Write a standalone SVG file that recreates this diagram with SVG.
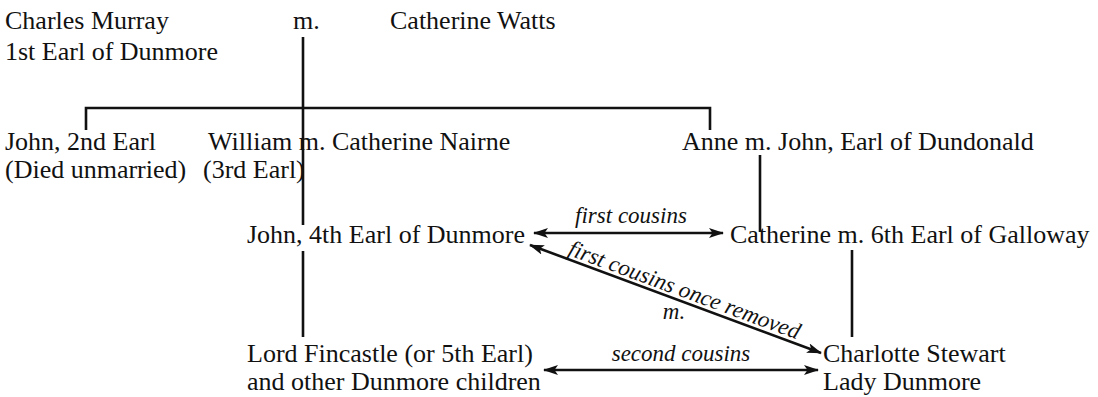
<svg xmlns="http://www.w3.org/2000/svg" width="1098" height="397" viewBox="0 0 1098 397">
  <style>
    text { font-family: "Liberation Serif", "DejaVu Serif", serif; font-size: 26px; fill: #111; }
    .rel { font-style: italic; font-size: 23px; }
    .ln { stroke: #111; stroke-width: 2.6; fill: none; }
    .arr { stroke: #111; stroke-width: 2.6; fill: none; marker-start: url(#head); marker-end: url(#head); }
  </style>
  <defs>
    <marker id="head" viewBox="0 0 15 10" refX="14" refY="5" markerWidth="15" markerHeight="10" markerUnits="userSpaceOnUse" orient="auto-start-reverse">
      <path d="M0,0 L15,5 L0,10 L3.5,5 Z" fill="#111"/>
    </marker>
  </defs>

  <!-- connectors -->
  <g id="connectors">
    <path class="ln" d="M303,37 V225 M303,251 V337"/>
    <path class="ln" d="M86,130 V108 H710 V130"/>
    <path class="ln" d="M760,155 V232"/>
    <path class="ln" d="M852,250 V337"/>
    <path class="arr" d="M534,233 H723"/>
    <text class="rel" x="631" y="223" text-anchor="middle">first cousins</text>
    <path class="arr" d="M530,245 L821,353"/>
    <text class="rel" transform="translate(682,297) rotate(20.3)" text-anchor="middle">first cousins once removed</text>
    <text class="rel" x="674" y="319" text-anchor="middle">m.</text>
    <path class="arr" d="M544,370 H818"/>
    <text class="rel" x="681" y="361" text-anchor="middle">second cousins</text>
  </g>

  <!-- people -->
  <g id="charles-murray">
    <text x="5" y="29">Charles Murray</text>
    <text x="5" y="60">1st Earl of Dunmore</text>
  </g>
  <g id="marriage-1"><text x="293" y="29">m.</text></g>
  <g id="catherine-watts"><text x="390" y="29">Catherine Watts</text></g>
  <g id="john-2nd-earl">
    <text x="5" y="150">John, 2nd Earl</text>
    <text x="5" y="178">(Died unmarried)</text>
  </g>
  <g id="william-3rd-earl">
    <text x="208" y="150">William m. Catherine Nairne</text>
    <text x="203" y="178">(3rd Earl)</text>
  </g>
  <g id="anne">
    <text x="682" y="150">Anne m. John, Earl of Dundonald</text>
  </g>
  <g id="john-4th-earl">
    <text x="247" y="243">John, 4th Earl of Dunmore</text>
  </g>
  <g id="catherine-galloway">
    <text x="730" y="243">Catherine m. 6th Earl of Galloway</text>
  </g>
  <g id="lord-fincastle">
    <text x="247" y="362">Lord Fincastle (or 5th Earl)</text>
    <text x="247" y="390">and other Dunmore children</text>
  </g>
  <g id="charlotte-stewart">
    <text x="823" y="362">Charlotte Stewart</text>
    <text x="823" y="390">Lady Dunmore</text>
  </g>
</svg>
